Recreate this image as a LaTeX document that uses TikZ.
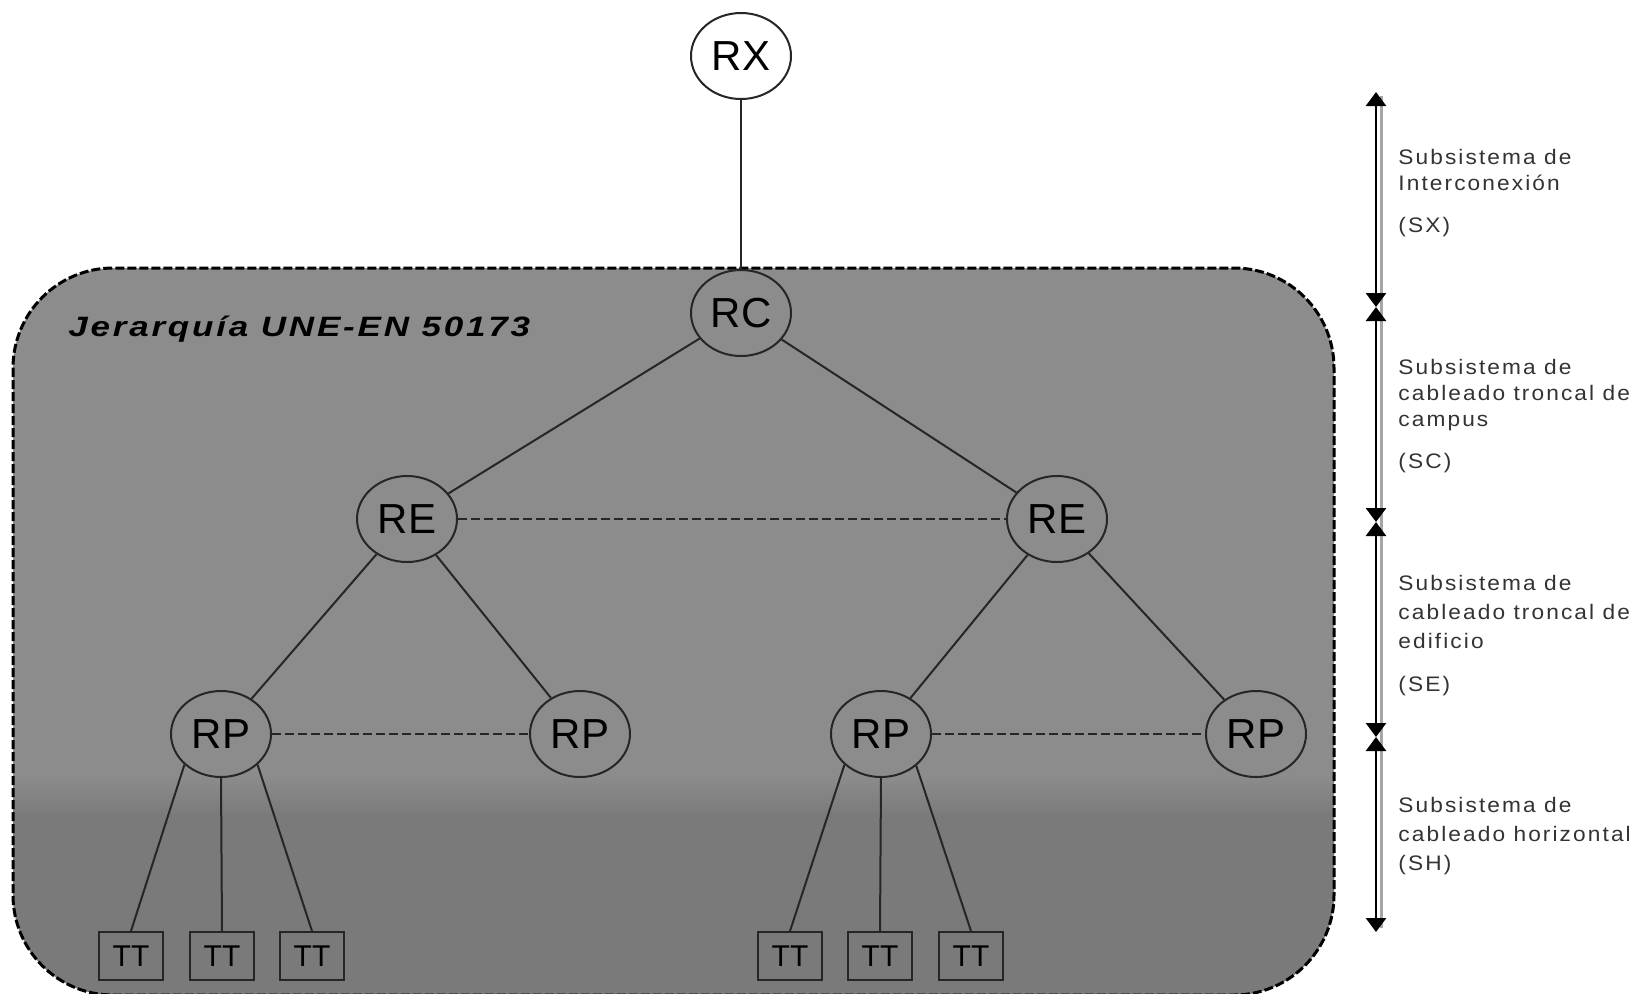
\documentclass[tikz,border=0pt]{standalone}
\usepackage{fontspec}
\setmainfont{Liberation Sans}
\newfontfamily\lblfont[LetterSpace=10,FakeStretch=1.08]{Liberation Sans}
\newfontfamily\ttlfont[LetterSpace=10,FakeStretch=1.25]{Liberation Sans}
\usetikzlibrary{shapes.geometric,arrows.meta}
\begin{document}
\begin{tikzpicture}[x=0.5pt,y=-0.5pt,
  rnode/.style={ellipse,draw=black!85,line width=1pt,minimum width=50pt,minimum height=43pt,inner sep=0pt,font=\fontsize{21}{21}\selectfont},
  ttbox/.style={rectangle,draw=black!85,line width=1pt,minimum width=32pt,minimum height=24pt,inner sep=0pt,font=\fontsize{15}{15}\selectfont},
  link/.style={draw=black!85,line width=1pt},
  peer/.style={draw=black!85,line width=1.3pt,dash pattern=on 4.5pt off 2pt},
  scalebar/.style={line width=1.3pt,{Triangle[length=7pt,width=10pt]}-{Triangle[length=7pt,width=10pt]}},
  lbl/.style={anchor=north west,align=left,inner sep=0pt,text=black!80},
  region/.style={rounded corners=50pt}
]
\useasboundingbox (0,0) rectangle (1638,993);
\fill[white] (0,0) rectangle (1638,993);
% grey region
\begin{scope}
  \clip[region] (13,268) rectangle (1334,995);
  \fill[black!45] (0,260) rectangle (1340,1000);
  \shade[top color=black!45,bottom color=black!52] (0,775) rectangle (1340,815);
  \fill[black!52] (0,814) rectangle (1340,1000);
\end{scope}
\draw[region,line width=1.5pt,dash pattern=on 4.5pt off 1.5pt] (13,268) rectangle (1334,995);

\node[anchor=base west,inner sep=0pt,font=\ttlfont\fontsize{14}{14}\selectfont\bfseries\itshape] (title) at (68,336) {Jerarquía UNE-EN 50173};

% nodes
\node[rnode,fill=white] (rx) at (741,56) {RX};
\node[rnode] (rc) at (741,313) {RC};
\node[rnode] (reL) at (407,519) {RE};
\node[rnode] (reR) at (1057,519) {RE};
\node[rnode] (rp1) at (221,734) {RP};
\node[rnode] (rp2) at (580,734) {RP};
\node[rnode] (rp3) at (881,734) {RP};
\node[rnode] (rp4) at (1256,734) {RP};
\node[ttbox] (tt1) at (131,956) {TT};
\node[ttbox] (tt2) at (222,956) {TT};
\node[ttbox] (tt3) at (312,956) {TT};
\node[ttbox] (tt4) at (790,956) {TT};
\node[ttbox] (tt5) at (880,956) {TT};
\node[ttbox] (tt6) at (971,956) {TT};

% connectors
\draw[link] (rx) -- (rc);
\draw[link] (rc) -- (reL);
\draw[link] (rc) -- (reR);
\draw[link] (reL) -- (rp1);
\draw[link] (reL) -- (rp2);
\draw[link] (reR) -- (rp3);
\draw[link] (reR) -- (rp4);
\draw[link] (rp1.220) -- (tt1.north);
\draw[link] (rp1.south) -- (tt2.north);
\draw[link] (rp1.320) -- (tt3.north);
\draw[link] (rp3.220) -- (tt4.north);
\draw[link] (rp3.south) -- (tt5.north);
\draw[link] (rp3.318) -- (tt6.north);
\draw[peer] (reL) -- (reR);
\draw[peer] (rp1) -- (rp2);
\draw[peer] (rp3) -- (rp4);

% scale on the right
\coordinate (s0) at (1376,92);
\coordinate (s1) at (1376,307);
\coordinate (s2) at (1376,522);
\coordinate (s3) at (1376,737);
\coordinate (s4) at (1376,932);
\coordinate (g0) at (1381,96);
\coordinate (g1) at (1381,928);
\draw[black!35,line width=1.5pt] (g0) -- (g1);
\draw[scalebar] (s0) -- (s1);
\draw[scalebar] (s1) -- (s2);
\draw[scalebar] (s2) -- (s3);
\draw[scalebar] (s3) -- (s4);

\node[lbl,font=\lblfont\fontsize{10.5}{13}\selectfont] (lsx) at (1398,149) {Subsistema de\\Interconexión\\[8pt](SX)};
\node[lbl,font=\lblfont\fontsize{10.5}{13}\selectfont] (lsc) at (1398,359) {Subsistema de\\cableado troncal de\\campus\\[8pt](SC)};
\node[lbl,font=\lblfont\fontsize{10.5}{14.5}\selectfont] (lse) at (1398,575) {Subsistema de\\cableado troncal de\\edificio\\[7pt](SE)};
\node[lbl,font=\lblfont\fontsize{10.5}{14.5}\selectfont] (lsh) at (1398,797) {Subsistema de\\cableado horizontal\\(SH)};
\end{tikzpicture}
\end{document}
